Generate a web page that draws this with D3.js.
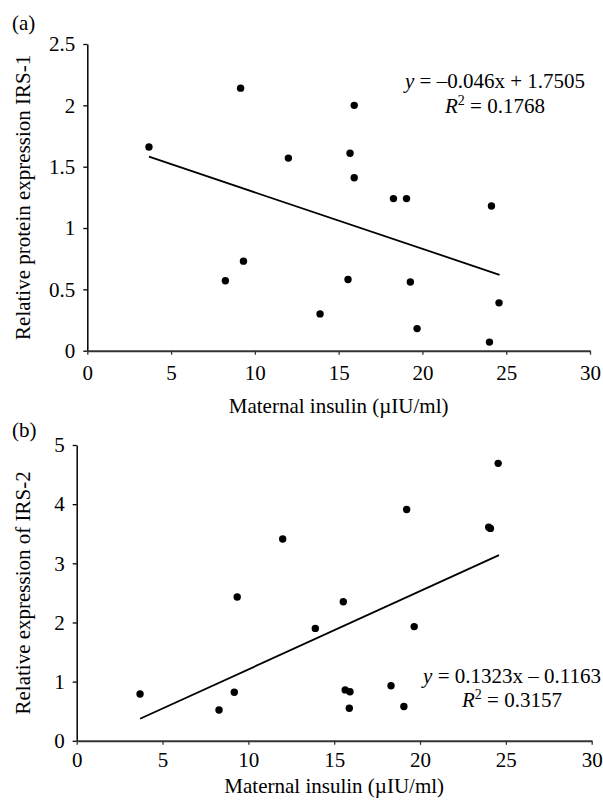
<!DOCTYPE html>
<html>
<head>
<meta charset="utf-8">
<script src="https://cdn.jsdelivr.net/npm/d3@7"></script>
<style>
  html, body { margin: 0; padding: 0; background: #fff; }
  svg text { font-family: "Liberation Serif", "Times New Roman", serif; fill: #000; }
</style>
</head>
<body>
<svg id="chart" width="603" height="800"></svg>
<script>
// ---- Data ----
const xTicks = [0, 5, 10, 15, 20, 25, 30];

// Panel (a): IRS-1 protein expression vs maternal insulin
const insulinA = [3.68, 9.15, 15.93, 12.0, 15.68, 15.93, 18.27, 19.05, 24.12, 9.32, 8.24, 15.56, 19.28, 13.89, 24.57, 19.68, 24.0];
const irs1     = [1.66, 2.14, 2.00, 1.57, 1.61, 1.41, 1.24, 1.24, 1.18, 0.73, 0.57, 0.58, 0.56, 0.30, 0.39, 0.18, 0.07];
const yTicksA  = [0, 0.5, 1, 1.5, 2, 2.5];
const trendA   = [-0.046, 1.7505]; // slope, intercept
const eqA      = ["= \u20130.046x + 1.7505", " = 0.1768"];

// Panel (b): IRS-2 expression vs maternal insulin
const insulinB = [3.69, 8.29, 9.18, 9.35, 12.0, 13.9, 15.53, 15.64, 15.92, 15.88, 18.31, 19.06, 19.22, 19.66, 24.0, 24.1, 24.55];
const irs2     = [0.79, 0.52, 0.82, 2.43, 3.41, 1.90, 2.35, 0.86, 0.83, 0.55, 0.93, 0.58, 3.91, 1.93, 3.61, 3.59, 4.69];
const yTicksB  = [0, 1, 2, 3, 4, 5];
const trendB   = [0.1323, -0.1163];
const eqB      = ["= 0.1323x \u2013 0.1163", " = 0.3157"];

const xTitle = "Maternal insulin (\u00b5IU/ml)";

// ---- Drawing ----
const svg = d3.select("#chart");
const FS = 21;

function panel(cfg) {
  const g = svg.append("g");
  const x = d3.scaleLinear().domain([0, 30]).range([cfg.left, cfg.right]);
  const y = d3.scaleLinear().domain(cfg.yDomain).range([cfg.bottom, cfg.top]);

  // y axis
  const ya = g.append("g").attr("transform", `translate(${cfg.left},0)`)
    .call(d3.axisLeft(y).tickValues(cfg.yTicks).tickFormat(d => String(d))
      .tickSize(4).tickSizeOuter(0).tickPadding(8));
  ya.select(".domain").attr("stroke", "#000").attr("stroke-width", 1.5);
  ya.selectAll(".tick line").attr("stroke", "#000").attr("stroke-width", 1.3);
  ya.selectAll("text").attr("font-size", FS).attr("font-family", "Liberation Serif");

  // x axis
  const xa = g.append("g").attr("transform", `translate(0,${cfg.bottom})`)
    .call(d3.axisBottom(x).tickValues(xTicks).tickFormat(d => String(d))
      .tickSize(4).tickSizeOuter(0).tickPadding(cfg.xPad));
  xa.select(".domain").attr("stroke", "#333").attr("stroke-width", 2);
  xa.selectAll(".tick line").attr("stroke", "#333").attr("stroke-width", 1.3);
  xa.selectAll("text").attr("font-size", FS).attr("font-family", "Liberation Serif");

  // trend line
  const ext = d3.extent(cfg.xs);
  const lineData = [ext[0], 24.6].map(v => [v, cfg.trend[0] * v + cfg.trend[1]]);
  g.append("path")
    .attr("d", d3.line().x(d => x(d[0])).y(d => y(d[1]))(lineData))
    .attr("stroke", "#000").attr("stroke-width", 1.8).attr("fill", "none");

  // points
  g.selectAll("circle.pt").data(cfg.xs.map((v, i) => [v, cfg.ys[i]]))
    .enter().append("circle").attr("class", "pt")
    .attr("cx", d => x(d[0])).attr("cy", d => y(d[1])).attr("r", 3.7)
    .attr("fill", "#000");

  // panel letter
  g.append("text").attr("x", 12).attr("y", cfg.letterY).attr("font-size", FS).text(cfg.letter);

  // y title
  g.append("text")
    .attr("transform", `translate(${cfg.yTitleX},${(cfg.top + cfg.bottom) / 2}) rotate(-90)`)
    .attr("text-anchor", "middle").attr("font-size", FS).text(cfg.yTitle);

  // x title
  g.append("text").attr("x", (cfg.left + cfg.right) / 2).attr("y", cfg.xTitleY)
    .attr("text-anchor", "middle").attr("font-size", FS).text(xTitle);

  // equation
  const t1 = g.append("text").attr("x", cfg.eqX).attr("y", cfg.eqY1)
    .attr("text-anchor", "middle").attr("font-size", FS);
  t1.append("tspan").attr("font-style", "italic").text("y");
  t1.append("tspan").text(" " + cfg.eq[0]);
  const t2 = g.append("text").attr("x", cfg.eqX).attr("y", cfg.eqY2)
    .attr("text-anchor", "middle").attr("font-size", FS);
  t2.append("tspan").attr("font-style", "italic").text("R");
  t2.append("tspan").attr("font-size", 14).attr("dy", -8).text("2");
  t2.append("tspan").attr("dy", 8).text(cfg.eq[1]);
}

panel({
  left: 87.3, right: 590, top: 44, bottom: 350.7, yDomain: [0, 2.5], yTicks: yTicksA,
  xs: insulinA, ys: irs1, trend: trendA, xPad: 10,
  letter: "(a)", letterY: 30, yTitle: "Relative protein expression IRS-1", yTitleX: 30,
  xTitleY: 413, eq: eqA, eqX: 495, eqY1: 88, eqY2: 113
});

panel({
  left: 76.7, right: 591.7, top: 445, bottom: 740.8, yDomain: [0, 5], yTicks: yTicksB,
  xs: insulinB, ys: irs2, trend: trendB, xPad: 7,
  letter: "(b)", letterY: 437, yTitle: "Relative expression of IRS-2", yTitleX: 30,
  xTitleY: 793, eq: eqB, eqX: 512, eqY1: 683, eqY2: 707
});
</script>
</body>
</html>
